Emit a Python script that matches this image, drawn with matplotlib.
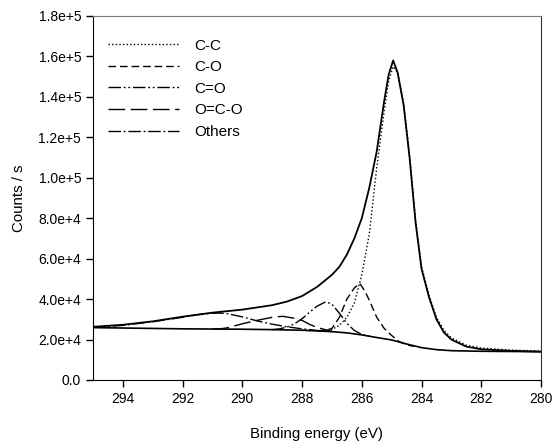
import numpy as np
import matplotlib
matplotlib.use('Agg')
import matplotlib.pyplot as plt

plt.rcParams['font.family'] = ['Liberation Sans', 'DejaVu Sans']
plt.rcParams['font.size'] = 10

# measured envelope (binding energy eV, counts/s)
env_x = [295, 294, 293, 292, 291, 290, 289, 288.5, 288, 287.5, 287, 286.75, 286.5,
         286.25, 286, 285.75, 285.5, 285.25, 285.1, 284.95, 284.8, 284.6, 284.4,
         284.2, 284.0, 283.75, 283.5, 283.25, 283, 282.5, 282, 281, 280]
env_y = [26.3e3, 27.3e3, 29.0e3, 31.3e3, 33.3e3, 34.8e3, 37.0e3, 38.8e3, 41.5e3,
         46.0e3, 52.0e3, 56.0e3, 62.0e3, 70.0e3, 80.0e3, 95.0e3, 113e3, 138e3,
         151e3, 158e3, 152e3, 136e3, 110e3, 78e3, 55e3, 41e3, 30e3, 23.5e3,
         20.0e3, 16.5e3, 15.2e3, 14.4e3, 14.0e3]

# Shirley background
bg_x = [295, 294, 293, 292, 291, 290, 289, 288, 287.5, 287, 286.5, 286, 285.5,
        285, 284.5, 284, 283.5, 283, 282, 281, 280]
bg_y = [25.9e3, 25.7e3, 25.5e3, 25.3e3, 25.2e3, 25.1e3, 24.9e3, 24.6e3, 24.3e3,
        23.9e3, 23.3e3, 22.3e3, 21.0e3, 19.8e3, 17.8e3, 16.0e3, 15.0e3, 14.5e3,
        14.2e3, 14.1e3, 14.0e3]

# fitted components (drawn on top of background)
cc_x = [288, 287.5, 287, 286.75, 286.5, 286.25, 286, 285.75, 285.5, 285.25, 285.1,
        284.95, 284.8, 284.6, 284.4, 284.2, 284.0, 283.75, 283.5, 283.25, 283,
        282.5, 282, 281, 280]
cc_y = [24.6e3, 24.3e3, 25.0e3, 27.0e3, 31.0e3, 38.0e3, 52.0e3, 72.0e3, 105e3,
        133e3, 148e3, 155e3, 152e3, 137e3, 111e3, 79e3, 56e3, 42e3, 31e3,
        24.5e3, 20.8e3, 17.2e3, 15.8e3, 14.8e3, 14.3e3]

co_x = [287.5, 287.25, 287, 286.75, 286.5, 286.25, 286.07, 285.9, 285.75, 285.5,
        285.25, 285, 284.75, 284.5, 284.25]
co_y = [24.3e3, 24.4e3, 25.5e3, 31.0e3, 40.0e3, 45.5e3, 47.8e3, 44.0e3, 39.5e3,
        31.0e3, 25.5e3, 22.0e3, 19.0e3, 17.4e3, 16.6e3]

c2o_x = [289, 288.75, 288.5, 288.25, 288, 287.75, 287.5, 287.2, 287, 286.75,
         286.5, 286.25, 286, 285.75]
c2o_y = [24.9e3, 25.3e3, 26.2e3, 27.8e3, 30.3e3, 33.5e3, 36.5e3, 38.7e3, 37.5e3,
         33.0e3, 28.0e3, 24.5e3, 22.5e3, 21.7e3]

oco_x = [291, 290.75, 290.5, 290.25, 290, 289.5, 289, 288.65, 288.25, 288, 287.75,
         287.5, 287.25, 287]
oco_y = [25.2e3, 25.3e3, 25.8e3, 26.8e3, 27.8e3, 29.5e3, 31.0e3, 31.5e3, 30.5e3,
         29.5e3, 27.5e3, 26.0e3, 25.0e3, 24.0e3]

oth_x = [295, 294, 293, 292, 291.5, 291, 290.75, 290.5, 290, 289.5, 289, 288.5,
         288, 287.5, 287]
oth_y = [26.0e3, 27.0e3, 28.8e3, 31.0e3, 32.3e3, 33.0e3, 33.1e3, 32.8e3, 31.2e3,
         29.2e3, 27.6e3, 26.3e3, 25.3e3, 24.5e3, 24.0e3]

fig = plt.figure(figsize=(5.54, 4.48), dpi=100)
ax = fig.add_axes([0.1679, 0.1518, 0.8086, 0.8125])

ax.plot(env_x, env_y, color='black', lw=1.3)
ax.plot(bg_x, bg_y, color='black', lw=1.2)
ax.plot(cc_x, cc_y, color='black', lw=1.0, dashes=(1, 1.6), label='C-C')
ax.plot(co_x, co_y, color='black', lw=1.0, dashes=(5.5, 2.8), label='C-O')
ax.plot(c2o_x, c2o_y, color='black', lw=1.0, dashes=(9, 2, 1.3, 2, 1.3, 2), label='C=O')
ax.plot(oco_x, oco_y, color='black', lw=1.0, dashes=(12, 4), label='O=C-O')
ax.plot(oth_x, oth_y, color='black', lw=1.0, dashes=(9, 2, 1.3, 2), label='Others')

ax.set_xlim(295, 280)
ax.set_ylim(0, 1.8e5)
ax.set_xticks(np.arange(294, 279, -2))
yt = np.arange(0, 1.81e5, 2e4)
ax.set_yticks(yt)
ax.set_yticklabels(['0.0'] + ['%.1fe+%d' % (v / 10 ** int(np.floor(np.log10(v))),
                                            int(np.floor(np.log10(v)))) for v in yt[1:]])
ax.tick_params(direction='out', length=5, width=1, colors='black', labelsize=10)
ax.set_xlabel('Binding energy (eV)', labelpad=15, fontsize=10.8)
ax.set_ylabel('Counts / s', labelpad=9, fontsize=10.8)
ax.spines['top'].set_color('#7a7a7a')
ax.spines['right'].set_color('#333333')

leg = ax.legend(loc='upper left', frameon=False, handlelength=4.6, handletextpad=1.05,
                labelspacing=0.5, bbox_to_anchor=(0.0, 0.98), borderaxespad=0.6,
                fontsize=11)

fig.savefig('out.png', dpi=100)
